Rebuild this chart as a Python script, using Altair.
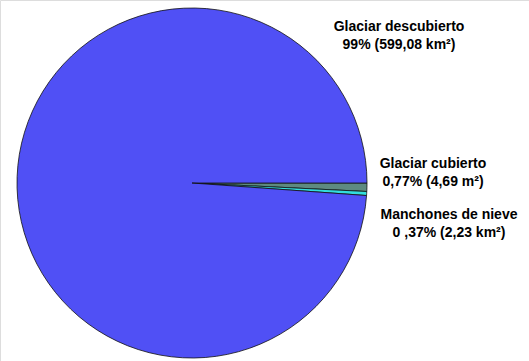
import math
import altair as alt
import pandas as pd

categories = ["Glaciar cubierto", "Manchones de nieve", "Glaciar descubierto"]
areas = [4.69, 2.23, 599.08]
order = [1, 2, 3]
colors = ["#5E8A80", "#33DDDD", "#5050F5"]

label_lines = [
    ["Glaciar descubierto", "99% (599,08 km²)"],
    ["Glaciar cubierto", "0,77% (4,69 m²)"],
    ["Manchones de nieve", "0 ,37% (2,23 km²)"],
]

df = pd.DataFrame({"cat": categories, "area": areas, "ord": order})

pie = alt.Chart(df).mark_arc(outerRadius=175, stroke="#111111", strokeWidth=0.8).encode(
    theta=alt.Theta("area:Q", stack=True,
                    scale=alt.Scale(range=[math.pi / 2, math.pi / 2 + 2 * math.pi])),
    order=alt.Order("ord:Q"),
    color=alt.Color("cat:N", scale=alt.Scale(domain=categories, range=colors), legend=None),
    x=alt.value(192),
    y=alt.value(183),
)

label_pos = [(399, 31, 49), (433, 168, 186), (449, 219, 237)]
layers = [pie]
for (l1, l2), (cx, y1, y2) in zip(label_lines, label_pos):
    for txt, yy in ((l1, y1), (l2, y2)):
        layers.append(
            alt.Chart(pd.DataFrame({"t": [txt]})).mark_text(
                font="Liberation Sans", fontSize=14, fontWeight="bold",
                align="center", baseline="alphabetic", color="#000000"
            ).encode(text="t:N", x=alt.value(cx), y=alt.value(yy))
        )

chart = alt.layer(*layers).properties(
    width=529, height=361,
    autosize=alt.AutoSizeParams(type="fit", contains="padding"),
    padding=0,
).configure_view(stroke=None).configure(background="white")

chart.save("out.html", embed_options={"renderer": "svg", "actions": False})
